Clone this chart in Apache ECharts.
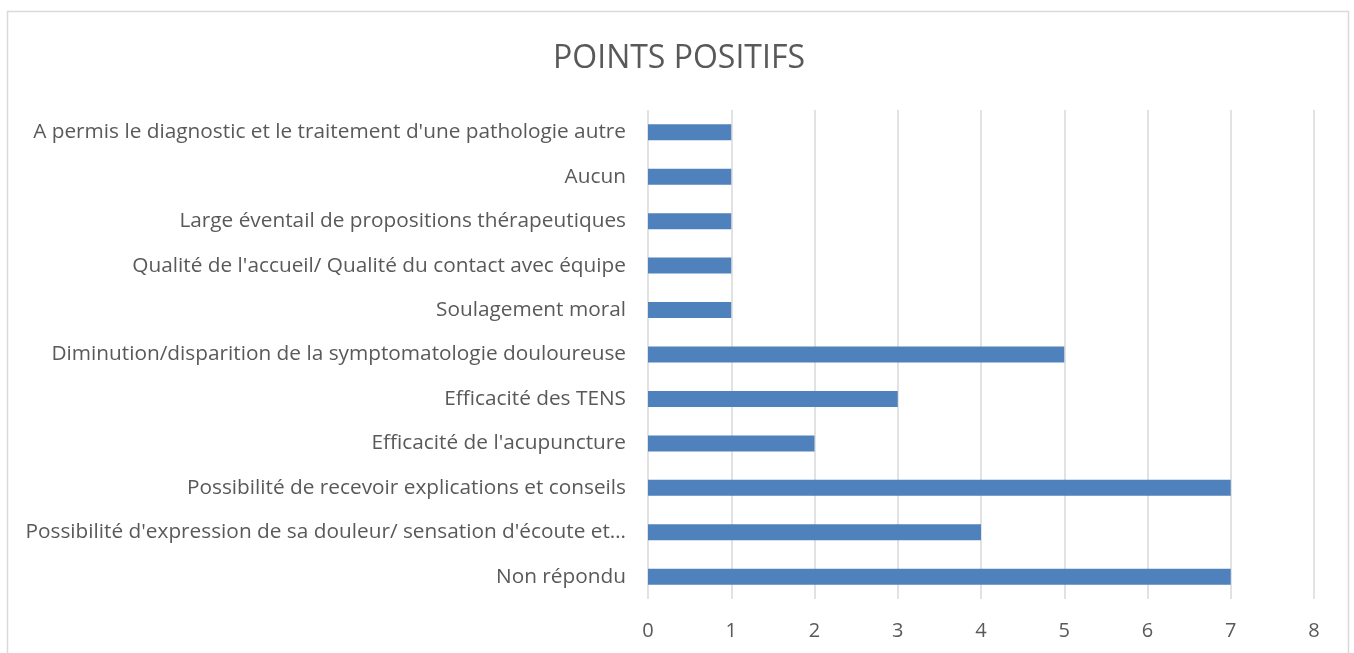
<!DOCTYPE html>
<html>
<head>
<meta charset="utf-8">
<script src="https://cdn.jsdelivr.net/npm/echarts@6/dist/echarts.min.js"></script>
<style>html,body{margin:0;padding:0;background:#fff;}#c{width:1354px;height:653px;}</style>
</head>
<body>
<div id="c"></div>
<script>
const titleText = "POINTS POSITIFS";
const categories = [
  "Non répondu",
  "Possibilité d'expression de sa douleur/ sensation d'écoute et…",
  "Possibilité de recevoir explications et conseils",
  "Efficacité de l'acupuncture",
  "Efficacité des TENS",
  "Diminution/disparition de la symptomatologie douloureuse",
  "Soulagement moral",
  "Qualité de l'accueil/ Qualité du contact avec équipe",
  "Large éventail de propositions thérapeutiques",
  "Aucun",
  "A permis le diagnostic et le traitement d'une pathologie autre"
];
const values = [7, 4, 7, 2, 3, 5, 1, 1, 1, 1, 1];
const xTicks = {min: 0, max: 8, interval: 1};

const chart = echarts.init(document.getElementById('c'));
chart.setOption({
  animation: false,
  backgroundColor: '#ffffff',
  graphic: [{
    type: 'rect',
    shape: {x: 7.5, y: 11.5, width: 1341, height: 700},
    style: {fill: 'none', stroke: '#d9d9d9', lineWidth: 1.5},
    z: -1
  }],
  title: {
    text: titleText,
    left: 674, top: 38, textAlign: 'center',
    textStyle: {fontFamily: 'Open Sans', fontSize: 32, fontWeight: 'normal', color: '#595959'}
  },
  grid: {left: 648, right: 40, top: 110, bottom: 54, containLabel: false},
  xAxis: {
    type: 'value', min: xTicks.min, max: xTicks.max, interval: xTicks.interval,
    axisLine: {show: false}, axisTick: {show: false},
    splitLine: {show: true, lineStyle: {color: '#d9d9d9', width: 1.5}},
    axisLabel: {margin: 22, fontFamily: 'Open Sans', fontSize: 20, color: '#595959'}
  },
  yAxis: {
    type: 'category', data: categories,
    axisLine: {show: false}, axisTick: {show: false},
    axisLabel: {margin: 22, fontFamily: 'Open Sans', fontSize: 20.8, color: '#595959'}
  },
  series: [{
    type: 'bar', data: values, barWidth: 16,
    itemStyle: {color: '#4f81bd'}
  }]
});
</script>
</body>
</html>
